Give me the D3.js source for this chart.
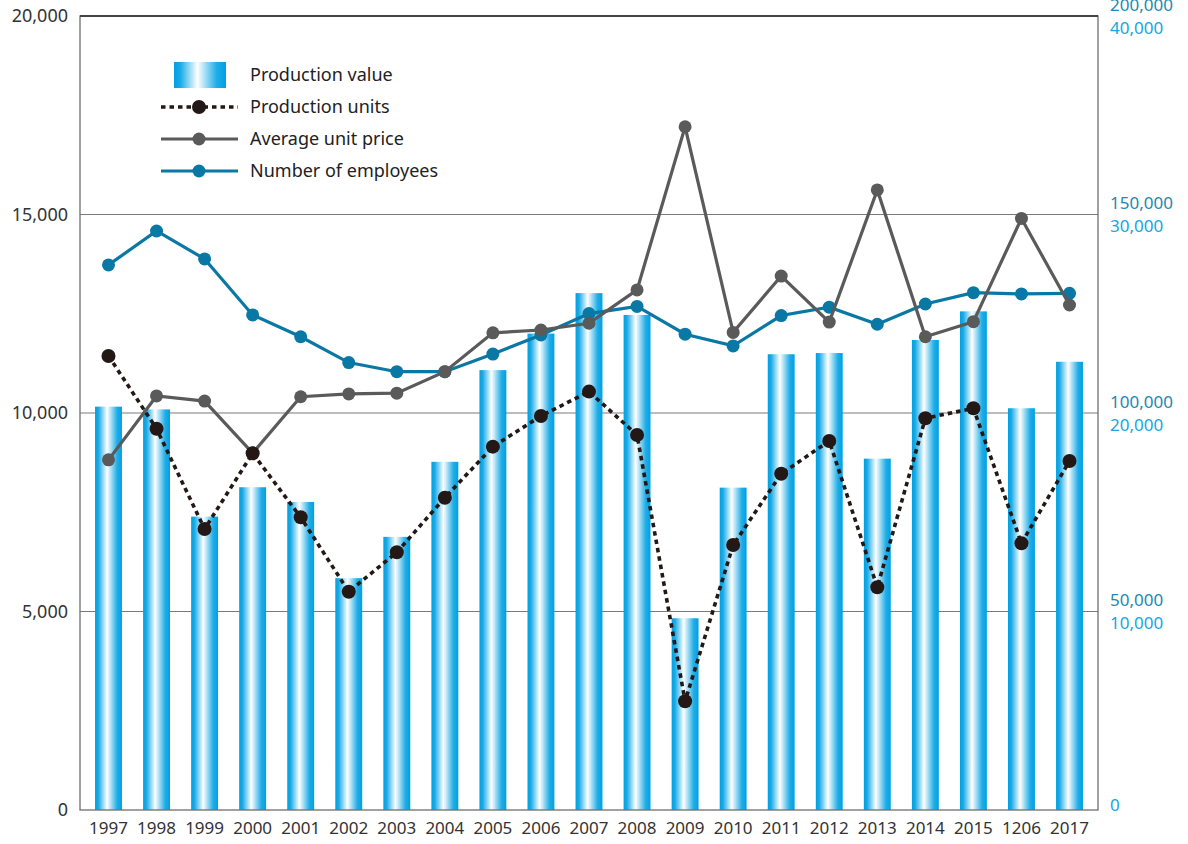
<!DOCTYPE html>
<html>
<head>
<meta charset="utf-8">
<script src="https://cdn.jsdelivr.net/npm/d3@7"></script>
<style>
  html, body { margin: 0; padding: 0; background: #fff; }
  svg { display: block; font-family: "Noto Sans", "Open Sans", sans-serif; }
</style>
</head>
<body>
<svg id="chart" width="1188" height="844"></svg>
<script>
// ---- data ----
const years = ["1997","1998","1999","2000","2001","2002","2003","2004","2005","2006","2007",
               "2008","2009","2010","2011","2012","2013","2014","2015","1206","2017"];
// Production value (left axis)
const productionValue = [10160,10090,7390,8130,7760,5840,6880,8770,11080,12000,13020,
                         12470,4830,8120,11480,11510,8850,11840,12560,10120,11290];
// Production units (right axis, 0–200,000)
const productionUnits = [114360,96050,70780,89850,73730,54990,64910,78670,91520,99250,105390,
                         94460,27380,66750,84690,92950,56100,98670,101190,67180,87910];
// Average unit price (left axis)
const avgUnitPrice = [8820,10430,10300,8990,10410,10480,10500,11040,12020,12090,12260,
                      13100,17210,12030,13450,12290,15620,11920,12300,14900,12720];
// Number of employees (right axis, 0–40,000)
const employees = [27460,29170,27760,24940,23840,22540,22080,22080,22970,23930,25010,
                   25370,23970,23380,24910,25330,24470,25490,26060,26000,26030];

const leftTicks = [0,5000,10000,15000,20000];
const rightUnitTicks = [50000,100000,150000,200000];
const rightEmpTicks = [0,10000,20000,30000,40000];
const legendLabels = ["Production value","Production units","Average unit price","Number of employees"];

// ---- layout ----
const svg = d3.select("#chart");
const L = 80, R = 1098, T = 16, B = 810;

const x = d3.scaleBand().domain(years).range([L, R]).paddingInner(0.44).paddingOuter(0.313);
const cx = d => x(d) + x.bandwidth() / 2;
const yLeft = d3.scaleLinear().domain([0, 20000]).range([B, T]);
const yUnits = d3.scaleLinear().domain([0, 200000]).range([B, T]);
const yEmp = d3.scaleLinear().domain([0, 40000]).range([B, T]);

// gradient for bars
const defs = svg.append("defs");
const grad = defs.append("linearGradient").attr("id", "barGrad")
  .attr("x1", "0%").attr("x2", "100%").attr("y1", "0%").attr("y2", "0%");
[[0, "#00a0e2"], [0.12, "#18aae6"], [0.45, "#ffffff"], [0.82, "#20ade8"], [1, "#00a0e2"]]
  .forEach(([o, c]) => grad.append("stop").attr("offset", o).attr("stop-color", c));

// grid lines
svg.append("g").selectAll("line").data(leftTicks.filter(t => t > 0 && t < 20000)).join("line")
  .attr("x1", L).attr("x2", R)
  .attr("y1", d => yLeft(d)).attr("y2", d => yLeft(d))
  .attr("stroke", "#7a7a7a").attr("stroke-width", 1.2);

// bars
svg.append("g").selectAll("rect").data(years).join("rect")
  .attr("x", d => x(d)).attr("width", x.bandwidth())
  .attr("y", (d, i) => yLeft(productionValue[i]))
  .attr("height", (d, i) => B - yLeft(productionValue[i]))
  .attr("fill", "url(#barGrad)");

// frame
svg.append("rect").attr("x", L).attr("y", T).attr("width", R - L).attr("height", B - T)
  .attr("fill", "none").attr("stroke", "#6f6f6f").attr("stroke-width", 1.3);
svg.append("line").attr("x1", L).attr("x2", R).attr("y1", T).attr("y2", T)
  .attr("stroke", "#444").attr("stroke-width", 1.8);

// left axis
const leftAxis = d3.axisLeft(yLeft).tickValues(leftTicks).tickSize(0).tickPadding(12)
  .tickFormat(d3.format(","));
const gl = svg.append("g").attr("transform", `translate(${L},0)`).call(leftAxis);
gl.select(".domain").remove();
gl.selectAll("text").attr("font-size", 18).attr("fill", "#333")
  .attr("font-family", "'Noto Sans', sans-serif");

// right axes
const rightUnitAxis = d3.axisRight(yUnits).tickValues(rightUnitTicks).tickSize(0).tickPadding(12)
  .tickFormat(d3.format(","));
const gr1 = svg.append("g").attr("transform", `translate(${R},-11)`).call(rightUnitAxis);
gr1.select(".domain").remove();
gr1.selectAll("text").attr("font-size", 17).attr("fill", "#2289b2")
  .attr("font-family", "'Noto Sans', sans-serif");

const rightEmpAxis = d3.axisRight(yEmp).tickValues(rightEmpTicks).tickSize(0).tickPadding(12)
  .tickFormat(d3.format(","));
const gr2 = svg.append("g").attr("transform", `translate(${R},12)`).call(rightEmpAxis);
gr2.select(".domain").remove();
gr2.selectAll("text").attr("font-size", 17).attr("fill", "#16a6e0")
  .attr("font-family", "'Noto Sans', sans-serif")
  .attr("dy", d => d === 0 ? "-0.7em" : "0.32em");

// bottom axis
const bottomAxis = d3.axisBottom(x).tickSize(0).tickPadding(12);
const gb = svg.append("g").attr("transform", `translate(0,${B})`).call(bottomAxis);
gb.select(".domain").remove();
gb.selectAll("text").attr("font-size", 17).attr("fill", "#333")
  .attr("font-family", "'Noto Sans', sans-serif");

// series lines
function drawSeries(values, yScale, color, width, dash, r) {
  const line = d3.line().x((d, i) => cx(years[i])).y(d => yScale(d));
  const g = svg.append("g");
  g.append("path").datum(values).attr("d", line).attr("fill", "none")
    .attr("stroke", color).attr("stroke-width", width)
    .attr("stroke-dasharray", dash || null);
  g.selectAll("circle").data(values).join("circle")
    .attr("cx", (d, i) => cx(years[i])).attr("cy", d => yScale(d))
    .attr("r", r).attr("fill", color);
}
drawSeries(employees, yEmp, "#0a78a4", 3.2, null, 6.5);
drawSeries(avgUnitPrice, yLeft, "#5a5a5a", 3.2, null, 6.5);
drawSeries(productionUnits, yUnits, "#231815", 3.6, "4.5,4", 7);

// legend
const lg = svg.append("g");
const rowY = [75, 107, 139, 171];
lg.append("rect").attr("x", 174).attr("y", 62).attr("width", 52).attr("height", 26)
  .attr("fill", "url(#barGrad)");
const legendStyles = [
  null,
  {color: "#231815", dash: "4.5,4", w: 3.6, r: 7},
  {color: "#5a5a5a", dash: null, w: 3.2, r: 6.5},
  {color: "#0a78a4", dash: null, w: 3.2, r: 6.5}
];
legendStyles.forEach((s, i) => {
  if (!s) return;
  lg.append("line").attr("x1", 161).attr("x2", 238).attr("y1", rowY[i]).attr("y2", rowY[i])
    .attr("stroke", s.color).attr("stroke-width", s.w).attr("stroke-dasharray", s.dash);
  lg.append("circle").attr("cx", 199).attr("cy", rowY[i]).attr("r", s.r).attr("fill", s.color);
});
lg.selectAll("text").data(legendLabels).join("text")
  .attr("x", 250).attr("y", (d, i) => rowY[i]).attr("dy", "0.35em")
  .attr("font-size", 18).attr("fill", "#222").text(d => d);
</script>
</body>
</html>
